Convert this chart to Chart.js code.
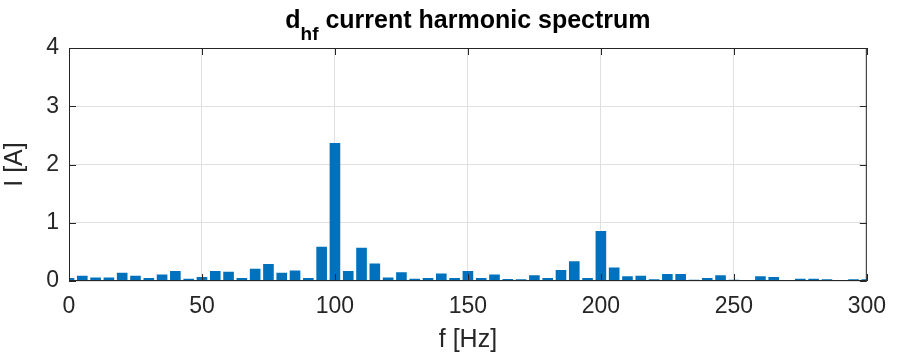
<!DOCTYPE html>
<html>
<head>
<meta charset="utf-8">
<script src="https://cdn.jsdelivr.net/npm/chart.js@4"></script>
<style>
  html, body { margin: 0; padding: 0; background: #fff; }
  #wrap { width: 898px; height: 357px; position: relative; }
</style>
</head>
<body>
<div id="wrap"><canvas id="spectrum"></canvas></div>
<script>
// harmonic frequencies (Hz)
const freqs = [
  0, 5, 10, 15, 20, 25, 30, 35, 40, 45,
  50, 55, 60, 65, 70, 75, 80, 85, 90, 95,
  100, 105, 110, 115, 120, 125, 130, 135, 140, 145,
  150, 155, 160, 165, 170, 175, 180, 185, 190, 195,
  200, 205, 210, 215, 220, 225, 230, 235, 240, 245,
  250, 255, 260, 265, 270, 275, 280, 285, 290, 295,
  300
];

// current amplitude (A)
const current = [
  0.05, 0.09, 0.06, 0.06, 0.14, 0.09, 0.05, 0.11, 0.17, 0.04,
  0.07, 0.17, 0.16, 0.05, 0.21, 0.29, 0.14, 0.18, 0.05, 0.59,
  2.37, 0.17, 0.57, 0.30, 0.06, 0.15, 0.04, 0.05, 0.13, 0.05,
  0.17, 0.05, 0.11, 0.035, 0.03, 0.10, 0.05, 0.19, 0.34, 0.05,
  0.86, 0.23, 0.08, 0.09, 0.03, 0.12, 0.12, 0.02, 0.05, 0.10,
  0.02, 0.005, 0.08, 0.07, 0.005, 0.04, 0.04, 0.03, 0.01, 0.03,
  0.03
];

const xTicks = [0, 50, 100, 150, 200, 250, 300];
const yTicks = [0, 1, 2, 3, 4];

const textColor = '#262626';
const gridColor = '#e0e0e0';
const fontFamily = '"Liberation Sans", Arial, Helvetica, sans-serif';

// box around the axes plus inward tick marks, like matlab
const axesBox = {
  id: 'axesBox',
  afterDraw(chart) {
    const { ctx, chartArea: a, scales } = chart;
    ctx.save();
    ctx.strokeStyle = textColor;
    ctx.lineWidth = 1;
    ctx.strokeRect(a.left + 0.5, a.top + 0.5, a.right - a.left - 1, a.bottom - a.top - 1);
    ctx.beginPath();
    xTicks.forEach((t) => {
      const x = Math.round(scales.x.getPixelForValue(t)) + 0.5;
      ctx.moveTo(x, a.bottom); ctx.lineTo(x, a.bottom - 7);
      ctx.moveTo(x, a.top); ctx.lineTo(x, a.top + 7);
    });
    yTicks.forEach((t) => {
      const y = Math.round(scales.y.getPixelForValue(t)) + 0.5;
      ctx.moveTo(a.left, y); ctx.lineTo(a.left + 7, y);
      ctx.moveTo(a.right, y); ctx.lineTo(a.right - 7, y);
    });
    ctx.stroke();
    ctx.restore();
  }
};

// title with the subscript, drawn on the canvas
const subTitle = {
  id: 'subTitle',
  afterDraw(chart) {
    const { ctx, chartArea: a } = chart;
    const main = 'd';
    const sub = 'hf';
    const rest = ' current harmonic spectrum';
    ctx.save();
    ctx.fillStyle = '#000';
    ctx.textBaseline = 'alphabetic';
    const big = 'bold 25px ' + fontFamily;
    const small = 'bold 19px ' + fontFamily;
    ctx.font = big;
    const w1 = ctx.measureText(main).width;
    const w3 = ctx.measureText(rest).width;
    ctx.font = small;
    const w2 = ctx.measureText(sub).width;
    let x = (a.left + a.right) / 2 - (w1 + w2 + w3) / 2;
    const y = 28;
    ctx.font = big;
    ctx.fillText(main, x, y);
    x += w1;
    ctx.font = small;
    ctx.fillText(sub, x, y + 12);
    x += w2;
    ctx.font = big;
    ctx.fillText(rest, x, y);
    ctx.restore();
  }
};

new Chart(document.getElementById('spectrum'), {
  type: 'bar',
  data: {
    datasets: [{
      data: freqs.map((f, i) => ({ x: f, y: current[i] })),
      backgroundColor: '#0072BD',
      borderWidth: 0,
      barPercentage: 0.8,
      categoryPercentage: 1.0
    }]
  },
  options: {
    responsive: true,
    maintainAspectRatio: false,
    animation: false,
    layout: { padding: { top: 48, right: 27, bottom: 0, left: 0 } },
    plugins: {
      legend: { display: false },
      tooltip: { enabled: false }
    },
    scales: {
      x: {
        type: 'linear',
        min: 0,
        max: 300,
        offset: false,
        afterBuildTicks: (scale) => { scale.ticks = xTicks.map((v) => ({ value: v })); },
        afterFit: (scale) => { scale.height = 76; },
        grid: { color: gridColor, drawTicks: false, offset: false },
        border: { display: false },
        ticks: {
          color: textColor,
          padding: 12,
          maxRotation: 0,
          font: { family: fontFamily, size: 23 }
        },
        title: {
          display: true,
          text: 'f [Hz]',
          color: textColor,
          padding: { top: 0, bottom: 2 },
          font: { family: fontFamily, size: 25 }
        }
      },
      y: {
        min: 0,
        max: 4,
        afterBuildTicks: (scale) => { scale.ticks = yTicks.map((v) => ({ value: v })); },
        afterFit: (scale) => { scale.width = 69; },
        grid: { color: gridColor, drawTicks: false },
        border: { display: false },
        ticks: {
          color: textColor,
          padding: 10,
          font: { family: fontFamily, size: 23 }
        },
        title: {
          display: true,
          text: 'I [A]',
          color: textColor,
          padding: { top: 0, bottom: 0 },
          font: { family: fontFamily, size: 25 }
        }
      }
    }
  },
  plugins: [axesBox, subTitle]
});
</script>
</body>
</html>
